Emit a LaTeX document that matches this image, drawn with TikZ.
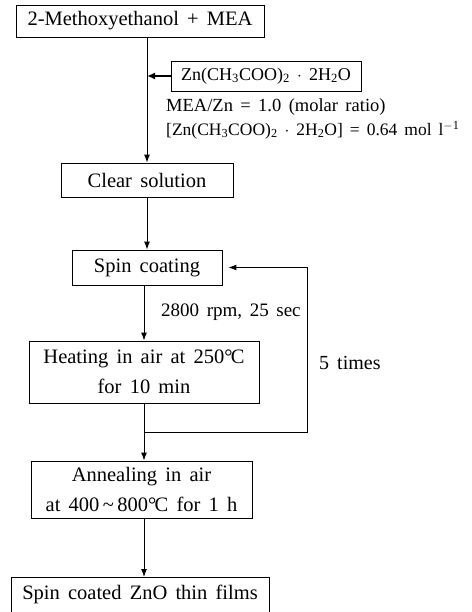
\documentclass[tikz,border=0pt]{standalone}
\usepackage{fontspec}
\setmainfont[WordSpace=1.6]{Liberation Serif}
\usetikzlibrary{arrows.meta}
\newcommand{\degc}{°\kern-0.08em C}
\begin{document}
\begin{tikzpicture}[x=1pt,y=-1pt,
  box/.style={draw,line width=0.9pt,inner sep=0pt,align=center,font=\fontsize{20.5}{30.5}\selectfont},
  note/.style={inner sep=0pt,anchor=west,font=\fontsize{18.5}{22}\selectfont},
  arr/.style={line width=1pt,-{Latex[length=8pt,width=6pt]}},
  ln/.style={line width=1pt}]
\useasboundingbox (0,0) rectangle (471,612);
\node[box,font=\fontsize{20.5}{30.5}\selectfont,minimum width=248pt,minimum height=32pt] (b1) at (140,21) {2-Methoxyethanol + MEA};
\node[box,font=\fontsize{18}{22}\selectfont,minimum width=190pt,minimum height=30pt] (zn) at (266,76)
  {Zn(CH\textsubscript{3}COO)\textsubscript{2} $\cdot$ 2H\textsubscript{2}O};
\node[note] (r1) at (166,107) {MEA/Zn = 1.0 (molar ratio)};
\node[note,font=\fontsize{17.5}{22}\selectfont] (r2) at (166,130) {[Zn(CH\textsubscript{3}COO)\textsubscript{2} $\cdot$ 2H\textsubscript{2}O] = 0.64 mol l\textsuperscript{$-$1}};
\node[box,minimum width=172pt,minimum height=34pt] (clear) at (147,180) {Clear solution};
\node[box,minimum width=150pt,minimum height=35pt] (spin) at (147,267.5) {Spin coating};
\node[note,font=\fontsize{19}{24}\selectfont] (rpm) at (161,312) {2800 rpm, 25 sec};
\node[box,minimum width=230pt,minimum height=62pt] (heat) at (144,372) {Heating in air at 250\degc\\for 10 min};
\node[note,font=\fontsize{20}{24}\selectfont] (times) at (319,363) {5 times};
\node[box,minimum width=221pt,minimum height=57pt] (ann) at (141.5,489.5) {Annealing in air\\at 400\,\textasciitilde\,800\degc{} for 1 h};
\node[box,anchor=north,minimum width=258pt,text height=22pt,text depth=18pt] (fin) at (140,577) {Spin coated ZnO thin films};
\coordinate (lp) at (307,432);
\draw[arr] (b1.south -| clear.north) -- (clear.north);
\draw[line width=2.2pt,-{Latex[length=8pt,width=7pt]}] (zn.west) -- (zn.west -| clear.north);
\draw[arr] (clear.south) -- (spin.north);
\draw[arr] (spin.south -| heat.north) -- (heat.north);
\draw[arr] (heat.south) -- (heat.south |- ann.north);
\draw[arr] (ann.south -| heat.south) -- (heat.south |- fin.north);
\draw[arr] (heat.south |- lp) -- (lp) -- (lp |- spin.east) -- ([xshift=6pt]spin.east);
\end{tikzpicture}
\end{document}
